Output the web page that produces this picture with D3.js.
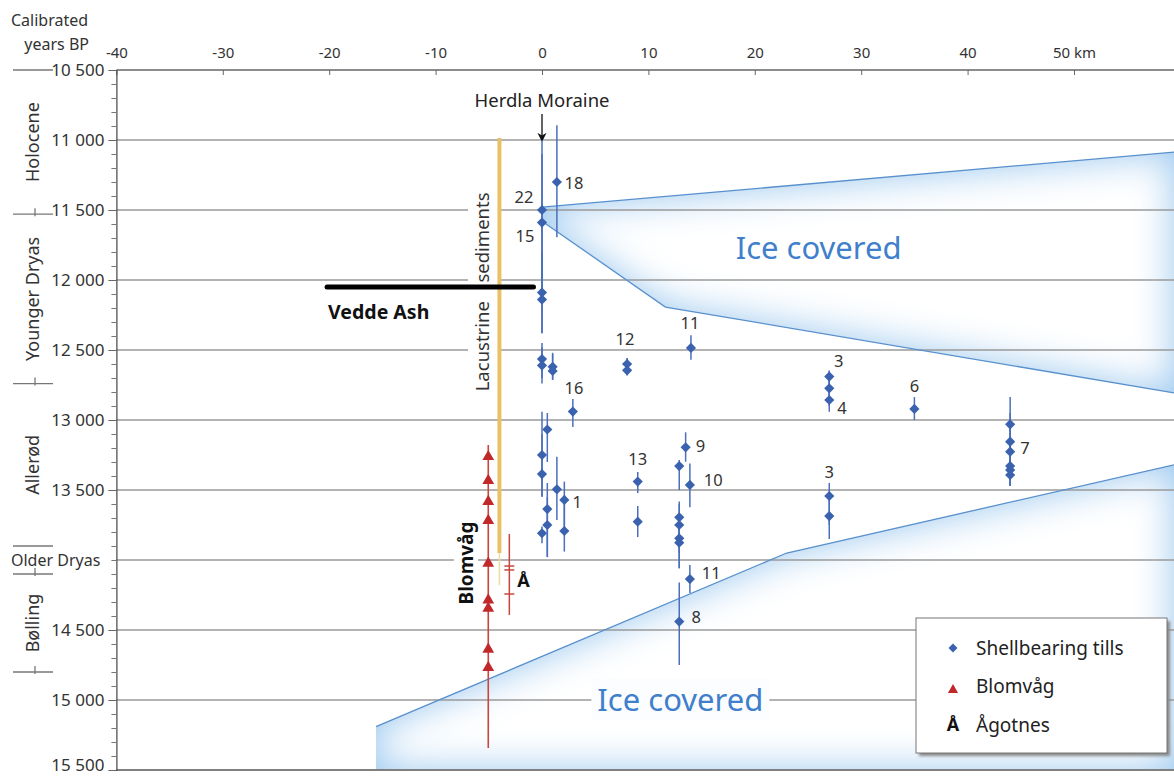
<!DOCTYPE html>
<html><head><meta charset="utf-8">
<script src="https://cdn.jsdelivr.net/npm/d3@7"></script>
<style>
body{margin:0;background:#fff;}
svg{display:block;font-family:"Noto Sans",sans-serif;}
</style>
</head><body>
<svg id="c" width="1174" height="776"></svg>
<script>
// ---------------- DATA ----------------
const kmTicks = [-40,-30,-20,-10,0,10,20,30,40,50];
const yearGrid = [10500,11000,11500,12000,12500,13000,13500,14000,14500,15000,15500];
const yearLabels = [10500,11000,11500,12000,12500,13000,13500,14500,15000,15500];
const periodNames = ["Holocene","Younger Dryas","Allerød","Older Dryas","Bølling"];
const periodBounds = [10500,11530,12740,13900,14100,14800];

// shellbearing tills: [km, year BP, error low, error high]
const shellTills = [
  [0,11500,11000,12000],[0,11590,11100,12100],[1.4,11300,10895,11695],
  [0,12090,11800,12380],[0,12140,11900,12380],
  [0,12565,12450,12700],[0,12610,12480,12740],
  [1,12620,12520,12710],[1,12650,12530,12714],
  [8,12600,12557,12680],[8,12645,12560,12680],
  [14,12485,12395,12570],[2.9,12940,12850,13050],
  [0.5,13068,12950,13300],[0,13250,12941,13548],[0,13386,13100,13548],
  [1.4,13495,13262,13714],[2.1,13571,13440,13800],[0.5,13636,13450,13979],
  [0.5,13750,13550,13979],[0,13809,13760,13880],[2.1,13793,13600,13940],
  [13.5,13195,13088,13298],[12.9,13329,13286,13500],[13.9,13464,13310,13624],
  [9,13440,13371,13521],[9,13726,13614,13836],
  [12.9,13695,13583,13900],[12.9,13750,13600,13950],[12.9,13845,13700,14059],[12.9,13876,13750,14059],
  [13.9,14136,14036,14236],[12.9,14440,14160,14750],
  [27,12690,12648,12850],[27,12774,12648,12900],[27,12857,12700,12941],
  [35,12921,12836,13000],
  [44,13031,12836,13250],[44,13155,12950,13350],[44,13226,13050,13400],
  [44,13329,13150,13471],[44,13357,13200,13471],[44,13393,13250,13471],
  [27,13543,13450,13750],[27,13686,13550,13850]
];
// site numbers: [text, km, year]
const shellLabels = [
  ["22",-1.7,11410],["15",-1.6,11686],["18",3.0,11307],["12",7.8,12421],
  ["11",13.9,12307],["16",3.0,12771],["3",27.9,12579],["4",28.2,12914],
  ["6",35,12757],["7",45.4,13200],["3",27,13371],["13",9.0,13279],
  ["9",14.9,13186],["10",16.1,13429],["1",3.3,13586],["11",15.9,14093],["8",14.5,14407]
];
const blomvagKm = -5.05;
const blomvagYears = [13262,13433,13583,13719,14024,14286,14345,14638,14769];
const blomvagRange = [13179,15343];
const agotnesKm = -3.07;
const agotnesRange = [13814,14393];
const agotnesTicks = [14043,14071,14243];
const lacustrineKm = -4.0;
const lacustrineRange = [10985,13950];
const lacustrineTail = [13950,14180];
const veddeAshYear = 12050;
const veddeAshKm = [-20.2,-0.8];
const herdlaKm = 0;
const iceUpper = [[0,11480],[59.4,11086],[59.4,12807],[11.6,12193],[0,11580]];
const iceUpperEdges = [[[0,11480],[59.4,11086]],[[0,11580],[11.6,12193],[59.4,12807]]];
const iceLower = [[-15.6,15500],[-15.6,15190],[23,13950],[59.4,13321],[59.4,15500]];
const iceLowerEdge = [[-15.6,15190],[23,13950],[59.4,13321]];

// ---------------- DRAW ----------------
const svg = d3.select("#c");
const x = d3.scaleLinear().domain([-40,59.4]).range([116.4,1174]);
const y = d3.scaleLinear().domain([10500,15500]).range([70,770]);
const W = 1174;
const defs = svg.append("defs");
defs.append("filter").attr("id","blur").attr("x","-30%").attr("y","-30%").attr("width","160%").attr("height","160%")
  .append("feGaussianBlur").attr("stdDeviation",20);
defs.append("filter").attr("id","shadow").attr("x","-10%").attr("y","-10%").attr("width","130%").attr("height","130%")
  .append("feGaussianBlur").attr("stdDeviation",1.5);
defs.append("marker").attr("id","arrow").attr("viewBox","0 0 10 10").attr("refX",9).attr("refY",5)
  .attr("markerWidth",7).attr("markerHeight",7).attr("orient","auto")
  .append("path").attr("d","M0,0 L10,5 L0,10 L3,5 Z").attr("fill","#111");

const line = d3.line().x(d=>x(d[0])).y(d=>y(d[1]));
const poly = pts => line(pts)+"Z";

// ice polygons with inner glow
[["U",iceUpper],["L",iceLower]].forEach(([id,pts])=>{
  defs.append("clipPath").attr("id","clip"+id).append("path").attr("d",poly(pts));
  const g = svg.append("g").attr("clip-path",`url(#clip${id})`);
  g.append("path").attr("d",poly(pts)).attr("fill","#98c6ee");
  g.append("path").attr("d",poly(pts)).attr("fill","#fff").attr("filter","url(#blur)");
});

// gridlines
svg.append("g").selectAll("line").data(yearGrid.filter(v=>v>10500&&v<15500)).join("line")
  .attr("x1",x(-40)).attr("x2",W).attr("y1",d=>y(d)).attr("y2",d=>y(d))
  .attr("stroke","#9a9a9a").attr("stroke-width",1.3);
svg.append("line").attr("x1",x(-40)).attr("x2",W).attr("y1",y(15500)).attr("y2",y(15500))
  .attr("stroke","#808080").attr("stroke-width",2);

// ice edges
iceUpperEdges.concat([iceLowerEdge]).forEach(e=>{
  svg.append("path").attr("d",line(e)).attr("fill","none").attr("stroke","#5890cd").attr("stroke-width",1.3);
});

// top axis
const topAx = svg.append("g").attr("transform",`translate(0,${y(10500)})`)
  .call(d3.axisTop(x).tickValues(kmTicks).tickSizeInner(-5).tickSizeOuter(0).tickPadding(12)
    .tickFormat(d=>d===50?"50 km":d));
topAx.select(".domain").remove();
topAx.selectAll(".tick line").attr("stroke","#666");
topAx.selectAll("text").attr("font-size",15).attr("fill","#333").attr("font-family","Noto Sans");
svg.append("line").attr("x1",x(-40)).attr("x2",W).attr("y1",y(10500)).attr("y2",y(10500))
  .attr("stroke","#666").attr("stroke-width",1.6);

// left axis
const minor = d3.range(10500,15501,100);
const leftMinor = svg.append("g").attr("transform",`translate(${x(-40)},0)`)
  .call(d3.axisLeft(y).tickValues(minor).tickSize(5).tickFormat(""));
leftMinor.select(".domain").attr("stroke","#444").attr("stroke-width",1.2);
leftMinor.selectAll(".tick line").attr("stroke","#777");
const leftLab = svg.append("g").attr("transform",`translate(${x(-40)},0)`)
  .call(d3.axisLeft(y).tickValues(yearLabels).tickSize(8).tickPadding(4)
    .tickFormat(d=>d3.format(",")(d).replace(","," ")));
leftLab.select(".domain").remove();
leftLab.selectAll(".tick line").attr("stroke","#666");
leftLab.selectAll("text").attr("font-size",17).attr("fill","#333").attr("font-family","Noto Sans")
  .attr("dy",d=>d===15500?"0em":"0.32em");

// axis title
svg.append("text").attr("x",11).attr("y",26).attr("font-size",16).attr("fill","#333").text("Calibrated");
svg.append("text").attr("x",89).attr("y",50).attr("text-anchor","end").attr("font-size",16).attr("fill","#333").text("years BP");

// period separators and labels
const sepG = svg.append("g").attr("stroke","#777").attr("stroke-width",1.3);
periodBounds.forEach((b,i)=>{
  sepG.append("line").attr("x1",13).attr("x2",53).attr("y1",y(b)).attr("y2",y(b));
  if(i>0 && b!==13900) sepG.append("line").attr("x1",35).attr("x2",35).attr("y1",y(b)-6).attr("y2",y(b)+2);
});
periodNames.forEach((n,i)=>{
  const cy = y((periodBounds[i]+periodBounds[i+1])/2);
  if(n==="Older Dryas"){
    svg.append("text").attr("x",11).attr("y",cy).attr("dy","0.35em").attr("font-size",16).attr("fill","#333").text(n);
  } else {
    svg.append("text").attr("transform",`translate(33,${cy}) rotate(-90)`).attr("text-anchor","middle")
      .attr("dy","0.35em").attr("font-size",18).attr("fill","#333").text(n);
  }
});

// lacustrine label with white background
const lacG = svg.append("g").attr("transform",`translate(483,${y(12085)}) rotate(-90)`);
const lacT = lacG.append("text").attr("text-anchor","middle").attr("dy","0.35em").attr("font-size",18.5)
  .attr("fill","#333").text("Lacustrine\u2003sediments");
const lb = lacT.node().getBBox();
lacG.insert("rect","text").attr("x",lb.x-7).attr("y",-15).attr("width",lb.width+14).attr("height",30).attr("fill","#fff");

// lacustrine bar
svg.append("line").attr("x1",x(lacustrineKm)).attr("x2",x(lacustrineKm))
  .attr("y1",y(lacustrineTail[0])).attr("y2",y(lacustrineTail[1])).attr("stroke","#eedc9e").attr("stroke-width",1.5);
svg.append("line").attr("x1",x(lacustrineKm)).attr("x2",x(lacustrineKm))
  .attr("y1",y(lacustrineRange[0])).attr("y2",y(lacustrineRange[1])).attr("stroke","#e7c067").attr("stroke-width",4);

// Vedde Ash
svg.append("line").attr("x1",x(veddeAshKm[0])).attr("x2",x(veddeAshKm[1]))
  .attr("y1",y(veddeAshYear)).attr("y2",y(veddeAshYear)).attr("stroke","#000").attr("stroke-width",5).attr("stroke-linecap","round");
svg.append("text").attr("x",x(veddeAshKm[0])+1).attr("y",y(veddeAshYear)+32).attr("font-size",19.5)
  .attr("font-weight","bold").attr("fill","#111").text("Vedde Ash");

// Herdla Moraine
svg.append("text").attr("x",x(herdlaKm)).attr("y",107).attr("text-anchor","middle").attr("font-size",18.5)
  .attr("fill","#222").text("Herdla Moraine");
svg.append("line").attr("x1",x(herdlaKm)).attr("x2",x(herdlaKm)).attr("y1",114).attr("y2",y(11000)+1)
  .attr("stroke","#111").attr("stroke-width",1.3).attr("marker-end","url(#arrow)");

// Blomvåg label
const blG = svg.append("g").attr("transform",`translate(466,563) rotate(-90)`);
const blT = blG.append("text").attr("text-anchor","middle").attr("dy","0.35em").attr("font-size",19)
  .attr("font-weight","bold").attr("fill","#111").text("Blomvåg");
const bb = blT.node().getBBox();
blG.insert("rect","text").attr("x",bb.x-3).attr("y",-12).attr("width",bb.width+6).attr("height",24).attr("fill","#fff");

// Blomvåg series
svg.append("line").attr("x1",x(blomvagKm)).attr("x2",x(blomvagKm))
  .attr("y1",y(blomvagRange[0])).attr("y2",y(blomvagRange[1])).attr("stroke","#c9463f").attr("stroke-width",1.6);
const tri = d3.symbol().type(d3.symbolTriangle).size(60);
svg.append("g").selectAll("path").data(blomvagYears).join("path")
  .attr("d",tri).attr("transform",d=>`translate(${x(blomvagKm)},${y(d)})`).attr("fill","#c1282a");

// Ågotnes
svg.append("line").attr("x1",x(agotnesKm)).attr("x2",x(agotnesKm))
  .attr("y1",y(agotnesRange[0])).attr("y2",y(agotnesRange[1])).attr("stroke","#c9463f").attr("stroke-width",1.5);
svg.append("g").selectAll("line").data(agotnesTicks).join("line")
  .attr("x1",x(agotnesKm)-5).attr("x2",x(agotnesKm)+5).attr("y1",d=>y(d)).attr("y2",d=>y(d))
  .attr("stroke","#c9463f").attr("stroke-width",1.5);
svg.append("text").attr("x",x(agotnesKm)+8).attr("y",y(14150)).attr("dy","0.35em").attr("font-size",18)
  .attr("font-weight","bold").attr("fill","#111").text("Å");

// shellbearing tills
svg.append("g").selectAll("line").data(shellTills).join("line")
  .attr("x1",d=>x(d[0])).attr("x2",d=>x(d[0])).attr("y1",d=>y(d[2])).attr("y2",d=>y(d[3]))
  .attr("stroke","#4a6fbe").attr("stroke-width",1.5);
const dia = d3.symbol().type(d3.symbolSquare).size(52);
svg.append("g").selectAll("path").data(shellTills).join("path")
  .attr("d",dia).attr("transform",d=>`translate(${x(d[0])},${y(d[1])}) rotate(45)`).attr("fill","#3b62ae");
svg.append("g").selectAll("text").data(shellLabels).join("text")
  .attr("x",d=>x(d[1])).attr("y",d=>y(d[2])).attr("dy","0.35em").attr("text-anchor","middle")
  .attr("font-size",16.5).attr("fill","#333").text(d=>d[0]);

// Ice covered labels
function iceLabel(cx,cy,bg){
  const t = svg.append("text").attr("x",cx).attr("y",cy).attr("dy","0.35em").attr("text-anchor","middle")
    .attr("font-size",31).attr("fill","#3f7fcb").text("Ice covered");
  if(bg){
    const b = t.node().getBBox();
    svg.insert("rect",()=>t.node()).attr("x",b.x-6).attr("y",b.y).attr("width",b.width+12).attr("height",b.height)
      .attr("fill","#fcfdff");
  }
}
iceLabel(x(26),y(11770),false);
iceLabel(x(13),y(15000),true);

// legend
const lg = svg.append("g").attr("transform","translate(916,618)");
lg.append("rect").attr("x",3).attr("y",3).attr("width",251).attr("height",135).attr("fill","#888").attr("filter","url(#shadow)");
lg.append("rect").attr("width",251).attr("height",135).attr("fill","#fff").attr("stroke","#777").attr("stroke-width",1);
lg.append("path").attr("d",d3.symbol().type(d3.symbolSquare).size(40)).attr("transform","translate(37,30) rotate(45)").attr("fill","#3b62ae");
lg.append("path").attr("d",d3.symbol().type(d3.symbolTriangle).size(45)).attr("transform","translate(37,72)").attr("fill","#c1282a");
lg.append("text").attr("x",37).attr("y",107).attr("dy","0.35em").attr("text-anchor","middle").attr("font-size",18)
  .attr("font-weight","bold").attr("fill","#111").text("Å");
const legendItems = ["Shellbearing tills","Blomvåg","Ågotnes"];
lg.selectAll("text.li").data(legendItems).join("text").attr("class","li")
  .attr("x",60).attr("y",(d,i)=>30+i*38.5).attr("dy","0.35em").attr("font-size",19).attr("fill","#222").text(d=>d);
</script>
</body></html>
